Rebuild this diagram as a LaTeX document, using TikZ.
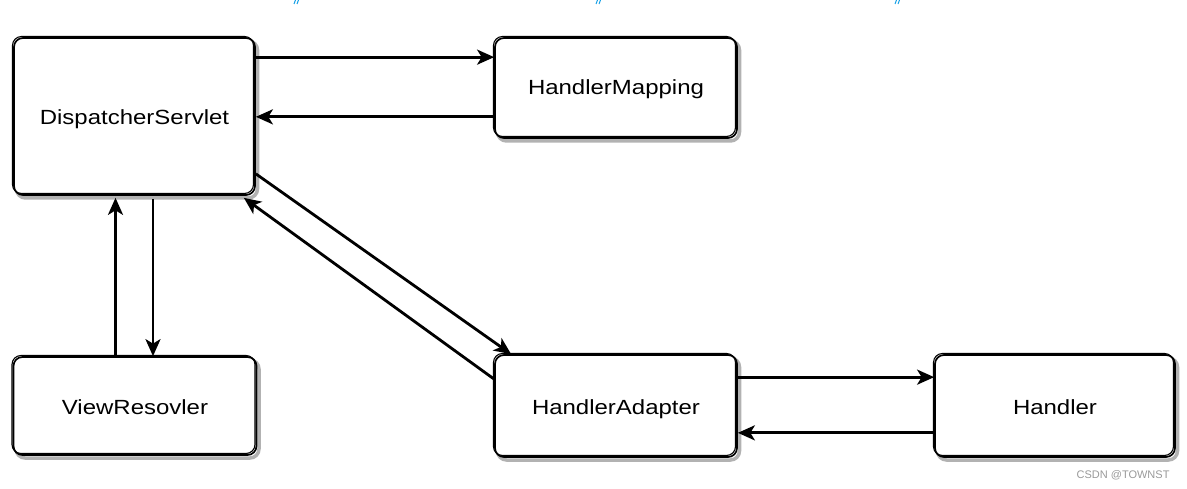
\documentclass[tikz,border=0pt]{standalone}
\usepackage{fontspec}
\setmainfont{Liberation Sans}
\newfontfamily\lab[FakeStretch=1.17]{Liberation Sans}
\usetikzlibrary{arrows.meta}
\definecolor{mark}{RGB}{20,160,230}
\tikzset{
  skbox/.style={rounded corners=9pt, draw=black, line width=1.7pt, fill=white,
    inner sep=0pt, text height=17pt, text depth=1pt, font=\lab\fontsize{20.5}{24}\selectfont,
    preaction={draw=black!30, line width=3.5pt, transform canvas={shift={(2.5pt,-3pt)}}},
    postaction={draw=black, line width=1.1pt, rounded corners=6pt, transform canvas={shift={(-1.5pt,1.5pt)}}}},
  arr/.style={line width=2.8pt, -{Stealth[length=17pt,width=15pt,inset=4.5pt]}},
  wm/.style={text=black!40, font=\fontsize{11}{13}\selectfont, anchor=east},
  tick/.style={draw=mark, line width=1pt}
}
\begin{document}
\begin{tikzpicture}[x=1pt,y=1pt]
\useasboundingbox (0,0) rectangle (1187,-489);
% blue top marks
\foreach \mx in {294,596,895}{
  \draw[tick] (\mx,-4) -- (\mx+1.5,0);
  \draw[tick] (\mx+3,-4) -- (\mx+4.5,0);
}
\node[skbox, minimum width=241pt, minimum height=157pt] (DS) at (134.5,-116.5) {DispatcherServlet};
\node[skbox, minimum width=242pt, minimum height=100pt, text height=15pt, text depth=2pt] (HM) at (616,-88) {HandlerMapping};
\node[skbox, minimum width=243pt, minimum height=98pt] (VR) at (135,-406) {ViewResovler};
\node[skbox, minimum width=242pt, minimum height=102pt] (HA) at (616,-406) {HandlerAdapter};
\node[skbox, minimum width=240pt, minimum height=102pt] (H) at (1055,-406) {Handler};
% DS <-> HM
\coordinate (a1) at ([yshift=-20pt]DS.north east);
\draw[arr] (a1) -- (a1 -| HM.west);
\coordinate (a2) at ([yshift=22pt]HM.south west);
\draw[arr] (a2) -- (a2 -| DS.east);
% DS <-> VR
\coordinate (b1) at ([xshift=18.5pt,yshift=-3pt]DS.south);
\draw[arr] (b1) -- (b1 |- VR.north);
\coordinate (b2) at ([xshift=-19.5pt]VR.north);
\draw[arr] (b2) -- ([yshift=-2pt]b2 |- DS.south);
% DS <-> HA diagonal
\draw[arr] ([yshift=22pt]DS.south east) -- ([xshift=17pt]HA.north west);
\draw[arr] ([yshift=-25pt]HA.north west) -- ([xshift=-12pt,yshift=-2pt]DS.south east);
% HA <-> H
\coordinate (c1) at ([yshift=-23pt]HA.north east);
\draw[arr] (c1) -- (c1 -| H.west);
\coordinate (c2) at ([yshift=25pt]H.south west);
\draw[arr] (c2) -- (c2 -| HA.east);
% watermark
\node[wm] (W) at (1173,-475) {CSDN @TOWNST};
\end{tikzpicture}
\end{document}
